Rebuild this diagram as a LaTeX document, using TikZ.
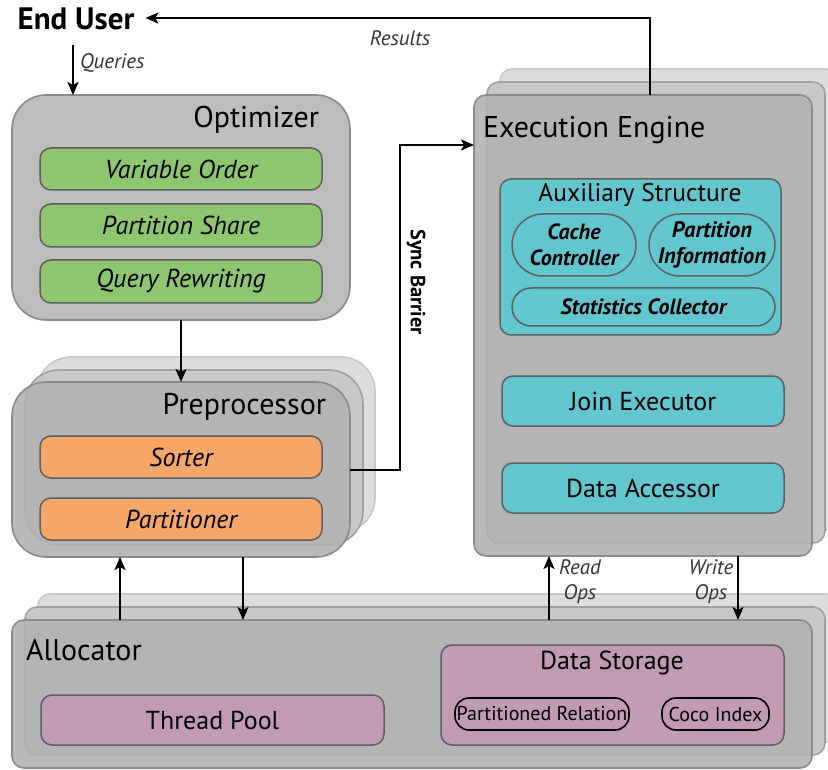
\documentclass[tikz,border=0pt]{standalone}
\usepackage{fontspec}
\setmainfont{PT Sans}
\usetikzlibrary{arrows.meta,calc}
\definecolor{optgray}{RGB}{189,189,189}
\definecolor{frontgray}{RGB}{178,178,178}
\definecolor{midgray}{RGB}{200,200,200}
\definecolor{backgray}{RGB}{221,221,221}
\definecolor{edgegray}{RGB}{138,138,138}
\definecolor{inedge}{RGB}{95,95,95}
\definecolor{greenbox}{RGB}{141,198,110}
\definecolor{orangebox}{RGB}{244,167,104}
\definecolor{tealbox}{RGB}{98,198,207}
\definecolor{mauvebox}{RGB}{193,154,182}
\newcommand\fsz[2]{\fontsize{#1}{#2}\selectfont}
\tikzset{
  every node/.style={inner sep=0pt, outer sep=0pt},
  frame/.style={draw=edgegray, line width=1.6pt, anchor=north west},
  backlayer/.style={frame, fill=backgray, draw=backgray!90!black},
  midlayer/.style={frame, fill=midgray, draw=midgray!80!black},
  frontlayer/.style={frame, fill=frontgray, fill opacity=0.9},
  inbox/.style={draw=inedge, line width=1.5pt, rounded corners=11pt, text=black},
  pill/.style={draw=inedge, line width=1.5pt, text=black, align=center},
  smallpill/.style={draw=black, line width=1.6pt, fill=mauvebox, rounded corners=14pt, text=black},
  arr/.style={line width=2pt, -{Stealth[length=13pt,width=11pt,inset=3pt]}},
  title/.style={text=black},
  lbl/.style={text=black!80, font=\fsz{21}{25}\itshape, align=center},
}
\begin{document}
\begin{tikzpicture}[x=1pt,y=-1pt]
\useasboundingbox (0,0) rectangle (828,770);
\clip (0,0) rectangle (828,770);

% ---------- End user
\node[title, font=\fsz{31}{34}\bfseries] (eu) at (76,19) {End User};

% ---------- Optimizer
\node[frame, fill=optgray, rounded corners=34pt, minimum width=338, minimum height=225] (opt) at (12,95) {};
\node[title, font=\fsz{30}{34}, anchor=east] (optt) at (319,120) {Optimizer};
\node[inbox, fill=greenbox, minimum width=282, minimum height=42, font=\fsz{26}{30}\itshape] (vo) at (181,169) {Variable Order};
\node[inbox, fill=greenbox, minimum width=282, minimum height=43, font=\fsz{26}{30}\itshape] (ps) at (181,225.5) {Partition Share};
\node[inbox, fill=greenbox, minimum width=282, minimum height=43, font=\fsz{26}{30}\itshape] (qr) at (181,281.5) {Query Rewriting};

% ---------- Preprocessor (stacked)
\node[backlayer, rounded corners=34pt, minimum width=338, minimum height=175] (preb) at (37,357) {};
\node[midlayer, rounded corners=34pt, minimum width=338, minimum height=175] (prem) at (25,370) {};
\node[frontlayer, rounded corners=34pt, minimum width=338, minimum height=175] (pre) at (12,382) {};
\node[title, font=\fsz{30}{34}, anchor=east] (pret) at (326,407) {Preprocessor};
\node[inbox, fill=orangebox, minimum width=282, minimum height=42, font=\fsz{26}{30}\itshape] (sorter) at (181,457) {Sorter};
\node[inbox, fill=orangebox, minimum width=282, minimum height=42, font=\fsz{26}{30}\itshape] (part) at (181,519) {Partitioner};

% ---------- Execution Engine (stacked)
\node[backlayer, rounded corners=12pt, minimum width=338, minimum height=461] (eeb) at (500,69) {};
\node[midlayer, rounded corners=12pt, minimum width=338, minimum height=461] (eem) at (487,82) {};
\node[frontlayer, rounded corners=12pt, minimum width=338, minimum height=461] (ee) at (474,95) {};
\node[title, font=\fsz{30}{34}, anchor=west] (eet) at (483,130) {Execution Engine};

\node[inbox, fill=tealbox, anchor=north west, minimum width=281, minimum height=156] (aux) at (500,179) {};
\node[title, font=\fsz{25.5}{29}] (auxt) at (640,195) {Auxiliary Structure};
\node[pill, fill=tealbox, rounded corners=31pt, minimum width=124, minimum height=62, font=\fsz{22}{26}\bfseries\itshape] (cache) at (574,245) {Cache\\Controller};
\node[pill, fill=tealbox, rounded corners=31pt, minimum width=126, minimum height=62, font=\fsz{22.5}{26}\bfseries\itshape] (pinfo) at (712,245) {Partition\\Information};
\node[pill, fill=tealbox, rounded corners=19pt, minimum width=263, minimum height=38, font=\fsz{22}{26}\bfseries\itshape] (stats) at (643.5,307) {Statistics Collector};

\node[inbox, fill=tealbox, minimum width=282, minimum height=50, font=\fsz{26}{30}] (join) at (643,401) {Join Executor};
\node[inbox, fill=tealbox, minimum width=282, minimum height=50, font=\fsz{26}{30}] (acc) at (643,488) {Data Accessor};

% ---------- Allocator (stacked)
\node[backlayer, rounded corners=12pt, minimum width=800, minimum height=148] (alb) at (38,594) {};
\node[midlayer, rounded corners=12pt, minimum width=800, minimum height=148] (alm) at (25,607) {};
\node[frontlayer, rounded corners=12pt, minimum width=800, minimum height=148] (alloc) at (12,620) {};
\node[title, font=\fsz{30}{34}, anchor=west] (allt) at (26,650) {Allocator};

\node[inbox, fill=mauvebox, minimum width=343, minimum height=50, font=\fsz{26}{30}] (tp) at (212.5,720) {Thread Pool};
\node[inbox, fill=mauvebox, anchor=north west, minimum width=343, minimum height=100] (ds) at (441,645) {};
\node[title, font=\fsz{26}{30}] (dst) at (612,663) {Data Storage};
\node[smallpill, minimum width=174, minimum height=32, font=\fsz{20}{24}] (prel) at (542,714) {Partitioned Relation};
\node[smallpill, minimum width=107, minimum height=32, font=\fsz{20}{24}] (coco) at (715.5,714) {Coco Index};

% ---------- Connectors
\draw[arr] ([xshift=-3pt,yshift=-26pt]eu.center) -- ([xshift=-3pt]eu.center |- opt.north);
\node[lbl, anchor=west] (qlbl) at (80,63) {Queries};
\draw[arr] ([xshift=7pt]ee.north) |- ([xshift=11pt,yshift=1pt]eu.east);
\node[lbl] (rlbl) at (400,38) {Results};
\draw[arr] (opt.south) -- (opt.south |- pre.north);
\draw[arr] (pre.east) -- ++(50,0) |- ([yshift=-50pt]ee.north west);
\node[rotate=-90, font=\fsz{20.5}{24}\bfseries, text=black] (sync) at (416,282) {Sync Barrier};
\draw[arr] ([xshift=-61pt]pre.south |- alloc.north) -- ([xshift=-61pt]pre.south);
\draw[arr] ([xshift=62pt]pre.south) -- ([xshift=62pt]pre.south |- alloc.north);
\draw[arr] ([xshift=-94pt]ee.south |- alloc.north) -- ([xshift=-94pt]ee.south);
\draw[arr] ([xshift=95pt]ee.south) -- ([xshift=95pt]ee.south |- alloc.north);
\node[lbl] (rdlbl) at (580,582) {Read\\Ops};
\node[lbl] (wrlbl) at (711,582) {Write\\Ops};
\end{tikzpicture}
\end{document}
